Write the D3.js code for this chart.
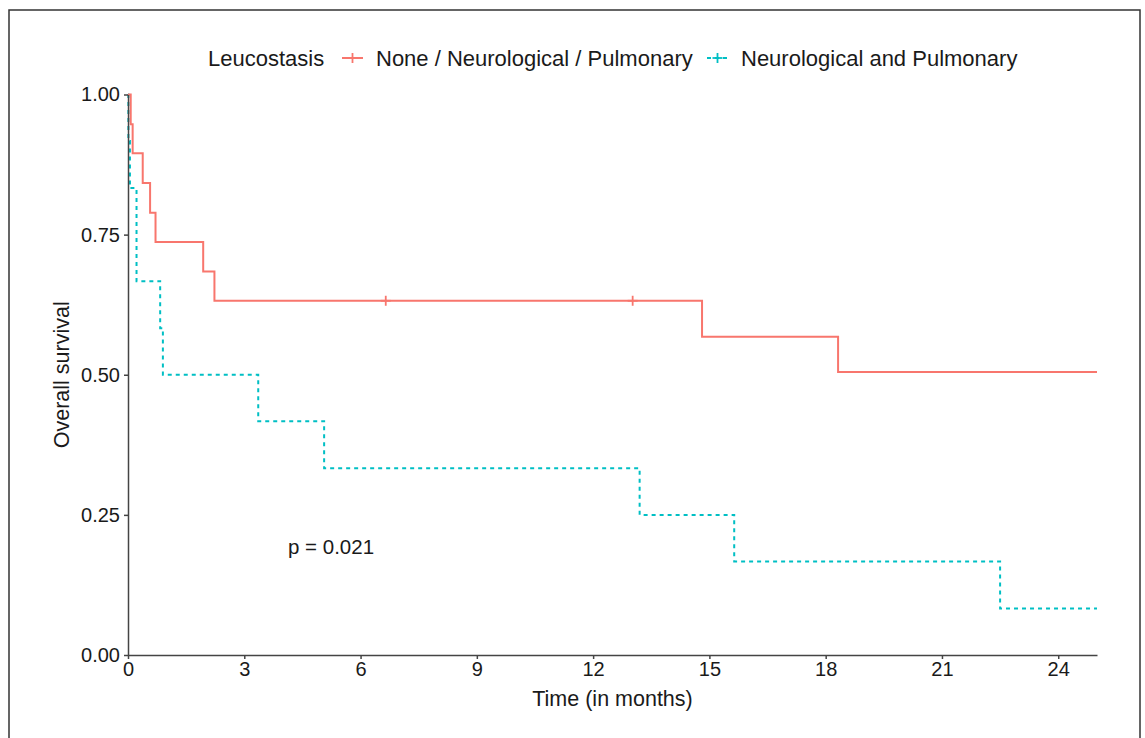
<!doctype html>
<html lang="en">
<head>
<meta charset="UTF-8">
<title>Overall survival by leucostasis</title>
<script src="https://d3js.org/d3.v7.min.js"></script>
<style>
  body { margin: 0; background: #fff; }
  svg { display: block; font-family: 'Liberation Sans', Arial, sans-serif; }
  .axis path, .axis line { stroke: #444; stroke-width: 1.5px; }
  .axis text { fill: #1a1a1a; font-size: 20px; }
  .curve { fill: none; stroke-width: 2px; }
</style>
</head>
<body>
<script>
// Kaplan-Meier steps (months, survival)
const groups = ["None / Neurological / Pulmonary", "Neurological and Pulmonary"];
const colors = ["#F8766D", "#00BFC4"];

const redTimes = [0, 0.07, 0.12, 0.38, 0.57, 0.71, 1.94, 2.23, 14.81, 18.32, 25];
const redSurv  = [1, 0.947, 0.895, 0.842, 0.789, 0.737, 0.684, 0.632, 0.568, 0.505, 0.505];
const redCensorTimes = [6.65, 13.02];
const redCensorSurv  = [0.632, 0.632];

const cyanTimes = [0, 0.01, 0.05, 0.22, 0.83, 0.90, 3.36, 5.06, 13.2, 15.64, 22.5, 25];
const cyanSurv  = [1, 0.917, 0.833, 0.667, 0.583, 0.5, 0.417, 0.333, 0.25, 0.167, 0.083, 0.083];

const xTicks = [0, 3, 6, 9, 12, 15, 18, 21, 24];
const yTicks = [0, 0.25, 0.5, 0.75, 1];
const pValue = "p = 0.021";

const width = 1145, height = 738;
const svg = d3.select("body").append("svg")
    .attr("width", width)
    .attr("height", height);

// outer frame
svg.append("rect")
    .attr("x", 9).attr("y", 10)
    .attr("width", 1131).attr("height", 740)
    .attr("fill", "none")
    .attr("stroke", "#333")
    .attr("stroke-width", 1.5);

const x = d3.scaleLinear().domain([0, 25]).range([128, 1097]);
const y = d3.scaleLinear().domain([0, 1]).range([655, 94.5]);

const line = d3.line()
    .x(d => x(d[0]))
    .y(d => y(d[1]))
    .curve(d3.curveStepAfter);

const redData = d3.zip(redTimes, redSurv);
const cyanData = d3.zip(cyanTimes, cyanSurv);

svg.append("path")
    .datum(cyanData)
    .attr("class", "curve")
    .attr("stroke", colors[1])
    .attr("stroke-dasharray", "4,4")
    .attr("d", line);

svg.append("path")
    .datum(redData)
    .attr("class", "curve")
    .attr("stroke", colors[0])
    .attr("d", line);

// censor marks
const plus = d3.symbol().type(d3.symbolCross);
function cross(g, cx, cy, col) {
  g.append("line").attr("x1", cx - 5).attr("x2", cx + 5).attr("y1", cy).attr("y2", cy)
      .attr("stroke", col).attr("stroke-width", 1.8);
  g.append("line").attr("x1", cx).attr("x2", cx).attr("y1", cy - 5).attr("y2", cy + 5)
      .attr("stroke", col).attr("stroke-width", 1.8);
}
const censors = svg.append("g");
d3.zip(redCensorTimes, redCensorSurv).forEach(d => cross(censors, x(d[0]), y(d[1]), colors[0]));

// axes
svg.append("g")
    .attr("class", "axis")
    .attr("transform", `translate(0,${y(0)})`)
    .call(d3.axisBottom(x).tickValues(xTicks).tickSize(4).tickPadding(3).tickSizeOuter(0));

svg.append("g")
    .attr("class", "axis")
    .attr("transform", `translate(${x(0)},0)`)
    .call(d3.axisLeft(y).tickValues(yTicks).tickFormat(d3.format(".2f")).tickSize(4).tickPadding(4).tickSizeOuter(0));

// axis titles
svg.append("text")
    .attr("x", (x(0) + x(25)) / 2)
    .attr("y", 706)
    .attr("text-anchor", "middle")
    .attr("font-size", 21.5)
    .attr("fill", "#1a1a1a")
    .text("Time (in months)");

svg.append("text")
    .attr("transform", `translate(69,${(y(0) + y(1)) / 2}) rotate(-90)`)
    .attr("text-anchor", "middle")
    .attr("font-size", 21.5)
    .attr("fill", "#1a1a1a")
    .text("Overall survival");

// p-value
svg.append("text")
    .attr("x", 288)
    .attr("y", 554)
    .attr("font-size", 20.5)
    .attr("fill", "#1a1a1a")
    .text(pValue);

// legend
const legend = svg.append("g");
legend.append("text")
    .attr("x", 208).attr("y", 66)
    .attr("font-size", 22)
    .attr("fill", "#1a1a1a")
    .text("Leucostasis");

const legendX = [342, 707];
groups.forEach((name, i) => {
  const lx = legendX[i];
  legend.append("line")
      .attr("x1", lx).attr("x2", lx + 21)
      .attr("y1", 58).attr("y2", 58)
      .attr("stroke", colors[i])
      .attr("stroke-width", 2)
      .attr("stroke-dasharray", i === 1 ? "4,4" : null);
  cross(legend, lx + 10.5, 58, colors[i]);
  legend.append("text")
      .attr("x", lx + 34).attr("y", 66)
      .attr("font-size", 22)
      .attr("fill", "#1a1a1a")
      .text(name);
});
</script>
</body>
</html>
